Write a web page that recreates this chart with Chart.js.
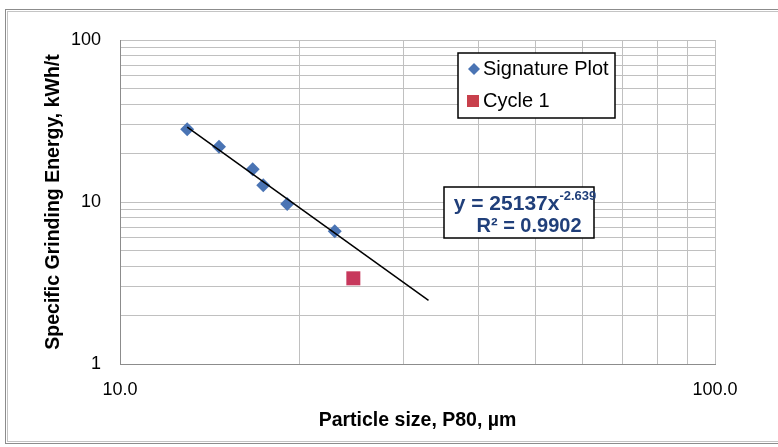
<!DOCTYPE html>
<html>
<head>
<meta charset="utf-8">
<script src="https://cdn.jsdelivr.net/npm/chart.js@4"></script>
<style>
  body { margin: 0; background: #fff; }
  #wrap { width: 778px; height: 447px; }
</style>
</head>
<body>
<div id="wrap"><canvas id="chart" width="778" height="447"></canvas></div>
<script>
// signature plot points (P80 in µm, energy in kWh/t)
const sigX = [12.97, 14.67, 16.71, 17.41, 19.10, 22.96]
const sigY = [28.1, 21.95, 15.9, 12.7, 9.72, 6.59]
// cycle 1 point
const cycX = [24.67]
const cycY = [3.38]
// power trendline ends
const trendX = [12.97, 33.0]
const trendY = [29.0, 2.47]
// gridline positions and labelled ticks
const xTicks = [10, 20, 30, 40, 50, 60, 70, 80, 90, 100]
const yTicks = [1, 2, 3, 4, 5, 6, 7, 8, 9, 10, 20, 30, 40, 50, 60, 70, 80, 90, 100]
const xLabelled = [10, 100]
const yLabelled = [1, 10, 100]

const FONT = "'Liberation Sans', Arial, sans-serif"
const blue = '#4a74b4'
const red = '#c7385c'

const toPts = (xs, ys) => xs.map((x, i) => ({ x: x, y: ys[i] }))

const frame = {
    id: 'frame',
    beforeDraw(chart) {
        const c = chart.ctx
        c.save()
        c.fillStyle = '#fff'
        c.fillRect(0, 0, chart.width, chart.height)
        c.lineWidth = 1
        c.strokeStyle = '#8c8c8c'
        c.strokeRect(5.5, 9.5, 900, 434)
        c.strokeStyle = '#c4c4c4'
        c.strokeRect(7.5, 11.5, 900, 430)
        c.restore()
    },
    afterDraw(chart) {
        const c = chart.ctx
        c.save()
        // legend box
        c.fillStyle = '#fff'
        c.fillRect(458, 53, 157, 65)
        c.strokeStyle = '#000'
        c.lineWidth = 1.5
        c.strokeRect(458, 53, 157, 65)
        c.fillStyle = blue
        c.beginPath()
        c.moveTo(468, 69); c.lineTo(474, 63); c.lineTo(480, 69); c.lineTo(474, 75)
        c.closePath(); c.fill()
        c.fillStyle = '#c8404c'
        c.fillRect(467, 95, 12, 12)
        c.fillStyle = '#000'
        c.font = '20px ' + FONT
        c.textBaseline = 'middle'
        c.textAlign = 'left'
        c.fillText('Signature Plot', 483, 69)
        c.fillText('Cycle 1', 483, 101)

        // equation box
        c.fillStyle = '#fff'
        c.fillRect(444, 187, 150, 51)
        c.strokeStyle = '#000'
        c.strokeRect(444, 187, 150, 51)
        c.fillStyle = '#203f7a'
        c.font = 'bold 21px ' + FONT
        const main = 'y = 25137x'
        const sup = '-2.639'
        const mw = c.measureText(main).width
        c.font = 'bold 13px ' + FONT
        const sw = c.measureText(sup).width
        const x0 = 525 - (mw + sw) / 2
        c.font = 'bold 21px ' + FONT
        c.fillText(main, x0, 204)
        c.font = 'bold 13px ' + FONT
        c.fillText(sup, x0 + mw, 196)
        c.font = 'bold 20px ' + FONT
        c.textAlign = 'center'
        c.fillText('R² = 0.9902', 529, 226)
        c.restore()
    }
}

new Chart(document.getElementById('chart'), {
    type: 'scatter',
    data: {
        datasets: [{
            label: 'Trend',
            data: toPts(trendX, trendY),
            showLine: true,
            borderColor: '#000',
            borderWidth: 1.5,
            pointRadius: 0
        }, {
            label: 'Signature Plot',
            data: toPts(sigX, sigY),
            pointStyle: 'rectRot',
            pointRadius: 7,
            backgroundColor: blue,
            borderColor: blue,
            borderWidth: 0
        }, {
            label: 'Cycle 1',
            data: toPts(cycX, cycY),
            pointStyle: 'rect',
            pointRadius: 9.9,
            backgroundColor: red,
            borderColor: red,
            borderWidth: 0
        }]
    },
    options: {
        responsive: false,
        animation: false,
        layout: { padding: { left: 0, top: 40, right: 63, bottom: 0 } },
        plugins: {
            legend: { display: false },
            tooltip: { enabled: false }
        },
        scales: {
            x: {
                type: 'logarithmic',
                min: 10,
                max: 100,
                afterBuildTicks: s => { s.ticks = xTicks.map(v => ({ value: v })) },
                afterFit: s => { s.height = 83 },
                grid: { color: '#c0c0c0', drawTicks: false },
                border: { color: '#8c8c8c' },
                ticks: {
                    autoSkip: false,
                    maxRotation: 0,
                    padding: 15,
                    color: '#000',
                    font: { family: FONT, size: 18 },
                    callback: v => xLabelled.includes(v) ? v.toFixed(1) : ''
                },
                title: {
                    display: true,
                    text: 'Particle size, P80, µm',
                    color: '#000',
                    font: { family: FONT, size: 19.5, weight: 'bold' },
                    padding: { top: 0, bottom: 15 }
                }
            },
            y: {
                type: 'logarithmic',
                min: 1,
                max: 100,
                afterBuildTicks: s => { s.ticks = yTicks.map(v => ({ value: v })) },
                afterFit: s => { s.width = 120 },
                grid: { color: '#c0c0c0', drawTicks: false },
                border: { color: '#8c8c8c' },
                ticks: {
                    autoSkip: false,
                    padding: 19,
                    color: '#000',
                    font: { family: FONT, size: 18 },
                    callback: v => yLabelled.includes(v) ? String(v) : ''
                },
                title: {
                    display: true,
                    text: 'Specific Grinding Energy, kWh/t',
                    color: '#000',
                    font: { family: FONT, size: 19.5, weight: 'bold' },
                    padding: { top: 42, bottom: 0 }
                }
            }
        }
    },
    plugins: [frame]
})
</script>
</body>
</html>
